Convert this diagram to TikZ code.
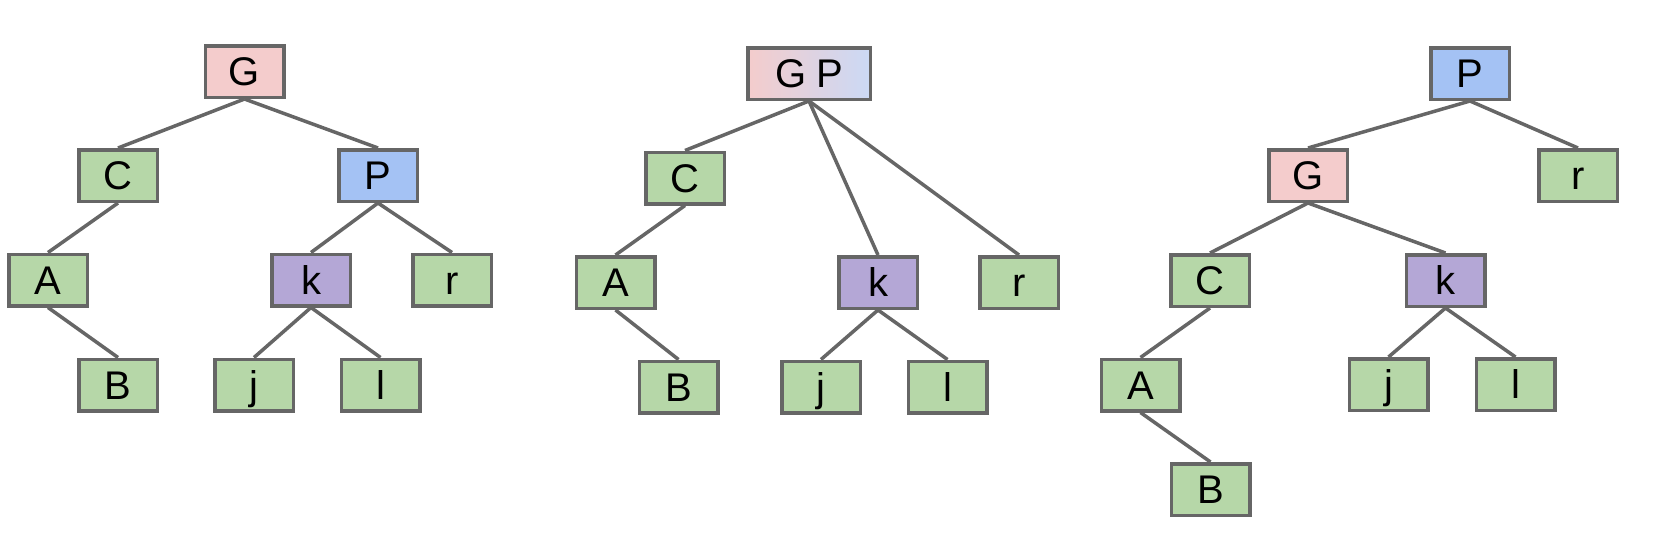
\documentclass[tikz,border=0pt]{standalone}
\usepackage{fontspec}
\setmainfont{Liberation Sans}
\definecolor{pinkc}{HTML}{F4CCCC}
\definecolor{bluec}{HTML}{A4C2F4}
\definecolor{lbluec}{HTML}{CBD9F5}
\definecolor{greenc}{HTML}{B6D7A8}
\definecolor{purplec}{HTML}{B4A7D6}
\definecolor{edgec}{HTML}{666666}
\tikzset{
  tnode/.style={draw=edgec, line width=3.5pt, rectangle, minimum width=78.5pt, minimum height=51.5pt,
    inner sep=0pt, text height=28.5pt, text depth=0pt, font=\fontsize{40}{40}\selectfont},
  gn/.style={tnode, fill=greenc},
  pn/.style={tnode, fill=pinkc},
  bn/.style={tnode, fill=bluec},
  vn/.style={tnode, fill=purplec},
  gpn/.style={tnode, minimum width=122.5pt, left color=pinkc, right color=lbluec},
  edge/.style={draw=edgec, line width=3.5pt}
}
\begin{document}
\begin{tikzpicture}[x=1pt,y=-1pt]
\useasboundingbox (0,0) rectangle (1667,549);
% Tree 1
\node[pn] (t1G) at (244.5,71.5) {G};
\node[gn] (t1C) at (118,175.5) {C};
\node[bn] (t1P) at (378,175.5) {P};
\node[gn] (t1A) at (48,280) {A};
\node[vn] (t1k) at (311,280) {k};
\node[gn] (t1r) at (452,280) {r};
\node[gn] (t1B) at (118,385) {B};
\node[gn] (t1j) at (254,385) {j};
\node[gn] (t1l) at (380.5,385) {l};
\draw[edge] (t1G.south) -- (t1C.north);
\draw[edge] (t1G.south) -- (t1P.north);
\draw[edge] (t1C.south) -- (t1A.north);
\draw[edge] (t1A.south) -- (t1B.north);
\draw[edge] (t1P.south) -- (t1k.north);
\draw[edge] (t1P.south) -- (t1r.north);
\draw[edge] (t1k.south) -- (t1j.north);
\draw[edge] (t1k.south) -- (t1l.north);
% Tree 2
\node[gpn] (t2GP) at (809,73.5) {G\hspace{0.25em}P};
\node[gn] (t2C) at (685,178) {C};
\node[gn] (t2A) at (615.5,282.5) {A};
\node[vn] (t2k) at (878,282.5) {k};
\node[gn] (t2r) at (1019,282.5) {r};
\node[gn] (t2B) at (678.5,387) {B};
\node[gn] (t2j) at (821,387) {j};
\node[gn] (t2l) at (947.5,387) {l};
\draw[edge] (t2GP.south) -- (t2C.north);
\draw[edge] (t2GP.south) -- (t2k.north);
\draw[edge] (t2GP.south) -- (t2r.north);
\draw[edge] (t2C.south) -- (t2A.north);
\draw[edge] (t2A.south) -- (t2B.north);
\draw[edge] (t2k.south) -- (t2j.north);
\draw[edge] (t2k.south) -- (t2l.north);
% Tree 3
\node[bn] (t3P) at (1470,73.5) {P};
\node[pn] (t3G) at (1308,175.5) {G};
\node[gn] (t3r) at (1578,175.5) {r};
\node[gn] (t3C) at (1210,280.5) {C};
\node[vn] (t3k) at (1445.5,280.5) {k};
\node[gn] (t3A) at (1140.5,385) {A};
\node[gn] (t3j) at (1388.5,384.5) {j};
\node[gn] (t3l) at (1515.5,384.5) {l};
\node[gn] (t3B) at (1210.5,489.5) {B};
\draw[edge] (t3P.south) -- (t3G.north);
\draw[edge] (t3P.south) -- (t3r.north);
\draw[edge] (t3G.south) -- (t3C.north);
\draw[edge] (t3G.south) -- (t3k.north);
\draw[edge] (t3C.south) -- (t3A.north);
\draw[edge] (t3A.south) -- (t3B.north);
\draw[edge] (t3k.south) -- (t3j.north);
\draw[edge] (t3k.south) -- (t3l.north);
\end{tikzpicture}
\end{document}
